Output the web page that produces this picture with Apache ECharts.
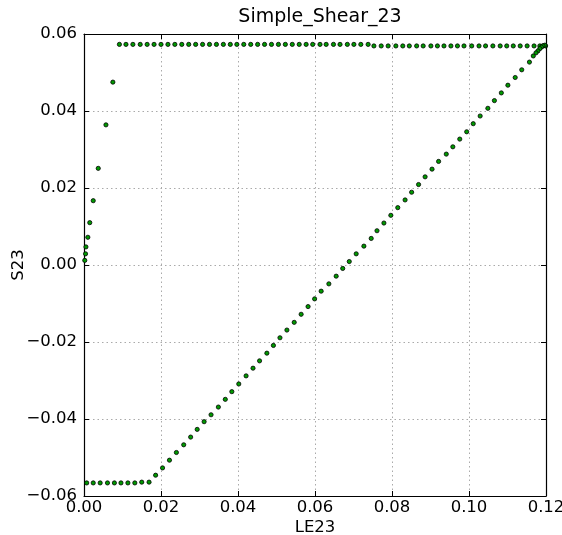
<!DOCTYPE html>
<html>
<head>
<meta charset="utf-8">
<title>Simple_Shear_23</title>
<script src="https://cdn.jsdelivr.net/npm/echarts@6/dist/echarts.min.js"></script>
<style>
  html, body { margin: 0; padding: 0; background: #fff; }
  #chart { width: 562px; height: 535px; }
</style>
</head>
<body>
<div id="chart"></div>
<script>
// Logarithmic shear strain LE23 and shear stress S23 for each recorded increment.

// Initial elastic rise
const elasticLE = [0.0002, 0.0004, 0.0005, 0.0010, 0.0015, 0.0024, 0.0037, 0.0057, 0.0075];
const elasticS  = [0.0012, 0.0029, 0.0047, 0.0072, 0.0110, 0.0167, 0.0251, 0.0364, 0.0475];

// Upper plateau
const upperLE = [0.0092, 0.0109, 0.0127, 0.0146, 0.0164, 0.0182, 0.0200, 0.0218, 0.0236, 0.0254,
                 0.0272, 0.0290, 0.0308, 0.0326, 0.0344, 0.0362, 0.0380, 0.0397, 0.0415, 0.0433,
                 0.0451, 0.0469, 0.0487, 0.0505, 0.0523, 0.0541, 0.0559, 0.0577, 0.0594, 0.0613,
                 0.0629, 0.0648, 0.0665, 0.0684, 0.0701, 0.0719, 0.0738, 0.0753, 0.0772, 0.0790,
                 0.0810, 0.0828, 0.0845, 0.0864, 0.0881, 0.0901, 0.0918, 0.0935, 0.0953, 0.0970,
                 0.0987, 0.1007, 0.1026, 0.1043, 0.1062, 0.1081, 0.1098, 0.1115, 0.1133, 0.1151,
                 0.1169, 0.1184, 0.1192, 0.1199];
const upperS  = [0.0573, 0.0573, 0.0573, 0.0573, 0.0573, 0.0573, 0.0573, 0.0573, 0.0573, 0.0573,
                 0.0573, 0.0573, 0.0573, 0.0573, 0.0573, 0.0573, 0.0573, 0.0573, 0.0573, 0.0573,
                 0.0573, 0.0573, 0.0573, 0.0573, 0.0573, 0.0573, 0.0573, 0.0573, 0.0573, 0.0573,
                 0.0573, 0.0573, 0.0573, 0.0573, 0.0573, 0.0573, 0.0573, 0.0569, 0.0569, 0.0569,
                 0.0569, 0.0569, 0.0569, 0.0569, 0.0569, 0.0569, 0.0569, 0.0569, 0.0569, 0.0569,
                 0.0569, 0.0569, 0.0569, 0.0569, 0.0569, 0.0569, 0.0569, 0.0569, 0.0569, 0.0569,
                 0.0569, 0.0569, 0.0569, 0.0569];

// Reverse branch
const reverseLE = [0.1197, 0.1192, 0.1188, 0.1184, 0.1179, 0.1174, 0.1167, 0.1157, 0.1137, 0.1120,
                   0.1101, 0.1084, 0.1066, 0.1049, 0.1029, 0.1011, 0.0994, 0.0976, 0.0958, 0.0941,
                   0.0921, 0.0904, 0.0886, 0.0869, 0.0851, 0.0834, 0.0815, 0.0797, 0.0779, 0.0761,
                   0.0746, 0.0727, 0.0707, 0.0689, 0.0672, 0.0655, 0.0636, 0.0616, 0.0599, 0.0582,
                   0.0564, 0.0546, 0.0527, 0.0509, 0.0492, 0.0475, 0.0456, 0.0439, 0.0421, 0.0402,
                   0.0384, 0.0367, 0.0349, 0.0330, 0.0312, 0.0294, 0.0277, 0.0259, 0.0240, 0.0222,
                   0.0204, 0.0186];
const reverseS  = [0.0571, 0.0569, 0.0566, 0.0562, 0.0556, 0.0551, 0.0543, 0.0527, 0.0507, 0.0487,
                   0.0467, 0.0447, 0.0427, 0.0407, 0.0387, 0.0367, 0.0346, 0.0327, 0.0307, 0.0288,
                   0.0269, 0.0249, 0.0229, 0.0209, 0.0189, 0.0169, 0.0149, 0.0129, 0.0109, 0.0089,
                   0.0069, 0.0049, 0.0029, 0.0009, -0.0009, -0.0029, -0.0049, -0.0068, -0.0088, -0.0108,
                   -0.0128, -0.0149, -0.0169, -0.0189, -0.0209, -0.0229, -0.0249, -0.0268, -0.0288, -0.0309,
                   -0.0329, -0.0349, -0.0369, -0.0389, -0.0407, -0.0427, -0.0447, -0.0467, -0.0487, -0.0507,
                   -0.0527, -0.0546];

// Lower plateau
const lowerLE = [0.0169, 0.0150, 0.0132, 0.0114, 0.0096, 0.0079, 0.0061, 0.0042, 0.0024, 0.0007];
const lowerS  = [-0.0564, -0.0564, -0.0566, -0.0566, -0.0566, -0.0566, -0.0566, -0.0566, -0.0566, -0.0566];

// Axis ticks
const xTicks = [0.00, 0.02, 0.04, 0.06, 0.08, 0.10, 0.12];
const yTicks = [-0.06, -0.04, -0.02, 0.00, 0.02, 0.04, 0.06];

function pairs(xs, ys) { return xs.map((x, i) => [x, ys[i]]); }
const points = [].concat(
  pairs(elasticLE, elasticS),
  pairs(upperLE, upperS),
  pairs(reverseLE, reverseS),
  pairs(lowerLE, lowerS)
);

const fmt = v => v.toFixed(2).replace('-', '\u2212');
const font = 'DejaVu Sans';

const tickStyle = { show: true, inside: true, length: 5, lineStyle: { color: '#000', width: 1 } };
const lineStyle = { show: true, onZero: false, lineStyle: { color: '#000', width: 1.2 } };
const gridLines = { show: true, lineStyle: { color: '#aaaaaa', type: [1.5, 3], width: 1 } };

const chart = echarts.init(document.getElementById('chart'), null, { renderer: 'canvas' });
chart.setOption({
  animation: false,
  backgroundColor: '#fff',
  title: {
    text: 'Simple_Shear_23',
    left: 315, top: 3, textAlign: 'center',
    textStyle: { fontFamily: font, fontSize: 19, fontWeight: 'normal', color: '#000' }
  },
  grid: { left: 84, right: 16, top: 34, bottom: 39, containLabel: false, outerBoundsMode: 'none' },
  xAxis: [
    {
      type: 'value', min: xTicks[0], max: xTicks[xTicks.length - 1], interval: 0.02,
      position: 'bottom',
      name: 'LE23', nameLocation: 'middle', nameGap: 23, nameMoveOverlap: false,
      nameTextStyle: { fontFamily: font, fontSize: 16.5, color: '#000' },
      axisLine: lineStyle, axisTick: tickStyle, splitLine: gridLines,
      axisLabel: { formatter: fmt, fontFamily: font, fontSize: 16.5, color: '#000', margin: 3 }
    },
    {
      type: 'value', min: xTicks[0], max: xTicks[xTicks.length - 1], interval: 0.02,
      position: 'top',
      axisLine: lineStyle, axisTick: tickStyle, splitLine: { show: false },
      axisLabel: { show: false }
    }
  ],
  yAxis: [
    {
      type: 'value', min: yTicks[0], max: yTicks[yTicks.length - 1], interval: 0.02,
      position: 'left',
      name: 'S23', nameLocation: 'middle', nameGap: 57, nameMoveOverlap: false,
      nameTextStyle: { fontFamily: font, fontSize: 16.5, color: '#000' },
      axisLine: lineStyle, axisTick: tickStyle, splitLine: gridLines,
      axisLabel: { formatter: fmt, fontFamily: font, fontSize: 16.5, color: '#000', margin: 7 }
    },
    {
      type: 'value', min: yTicks[0], max: yTicks[yTicks.length - 1], interval: 0.02,
      position: 'right',
      axisLine: lineStyle, axisTick: tickStyle, splitLine: { show: false },
      axisLabel: { show: false }
    }
  ],
  series: [{
    type: 'scatter',
    xAxisIndex: 0, yAxisIndex: 0,
    data: points,
    symbol: 'circle',
    symbolSize: 4.2,
    itemStyle: { color: '#009900', borderColor: '#000', borderWidth: 0.8, opacity: 1 },
    clip: false
  }]
});
</script>
</body>
</html>
